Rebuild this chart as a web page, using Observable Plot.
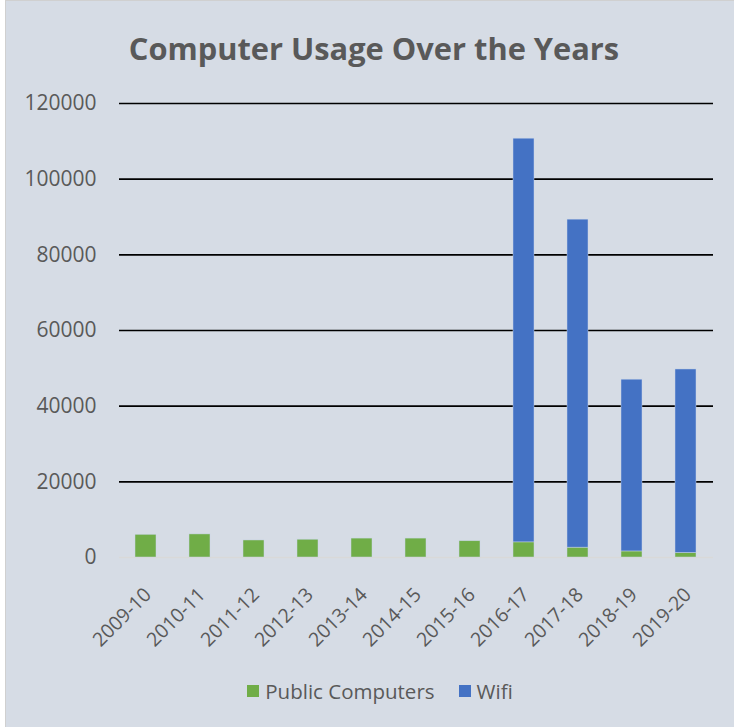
<!DOCTYPE html>
<html>
<head>
<meta charset="utf-8">
<script src="https://cdn.jsdelivr.net/npm/d3@7"></script>
<script src="https://cdn.jsdelivr.net/npm/@observablehq/plot@0.6"></script>
<style>
  html, body { margin: 0; padding: 0; background: #ffffff; }
  #wrap { position: relative; width: 734px; height: 727px; overflow: hidden; background: #ffffff; }
  #frame { position: absolute; left: 5px; top: 0px; width: 740px; height: 740px; background: #d6dce5;
           border-left: 1px solid #d0d0d0; border-top: 1px solid #d0d0d0; }
  #title { position: absolute; left: 0; width: 748px; top: 27px; text-align: center;
           font-family: "Open Sans", sans-serif; font-weight: 700; font-size: 30.8px; color: #595959; }
  #plot { position: absolute; left: 0; top: 0; }
  #legend { position: absolute; left: 0; top: 675px; width: 760px; text-align: center;
            font-family: "Open Sans", sans-serif; font-size: 20.5px; color: #595959; }
  #legend span.item { display: inline-flex; align-items: center; margin: 0 12px; }
  #legend span.sw { display: inline-block; width: 12px; height: 12px; margin-right: 6px; }
</style>
</head>
<body>
<div id="wrap">
  <div id="frame"></div>
  <div id="title">Computer Usage Over the Years</div>
  <div id="plot"></div>
  <div id="legend"></div>
</div>
<script>
const years = ["2009-10","2010-11","2011-12","2012-13","2013-14","2014-15","2015-16","2016-17","2017-18","2018-19","2019-20"];
const publicComputers = [6000, 6100, 4500, 4700, 5000, 5000, 4300, 4000, 2600, 1600, 1200];
const wifi = [0, 0, 0, 0, 0, 0, 0, 106700, 86700, 45400, 48500];
const seriesNames = ["Public Computers", "Wifi"];
const seriesColors = ["#70ad47", "#4472c4"];
const yTicks = [0, 20000, 40000, 60000, 80000, 100000, 120000];

const rows = [];
years.forEach((y, i) => {
  rows.push({year: y, series: seriesNames[0], value: publicComputers[i]});
  rows.push({year: y, series: seriesNames[1], value: wifi[i]});
});

const chart = Plot.plot({
  width: 734,
  height: 727,
  marginLeft: 119,
  marginRight: 21,
  marginTop: 103,
  marginBottom: 170,
  style: {background: "transparent", fontFamily: "'Open Sans', sans-serif", fontSize: "21px", color: "#595959"},
  x: {domain: years, paddingInner: 0.61, paddingOuter: 0.305, label: null},
  y: {domain: [0, 120000], label: null},
  color: {domain: seriesNames, range: seriesColors},
  marks: [
    Plot.ruleY(yTicks.filter(d => d > 0), {stroke: "#000000", strokeWidth: 1.6}),
    Plot.ruleY([0], {stroke: "#d9d9d9", strokeWidth: 1.5}),
    Plot.barY(rows, {x: "year", y: "value", fill: "series", stroke: "#c9d6ea", strokeWidth: 0.6, strokeOpacity: 0.8}),
    Plot.axisY({ticks: yTicks, tickSize: 0, tickPadding: 23, tickFormat: d => String(d), label: null, fill: "#595959", fontSize: 21}),
    Plot.axisX({tickSize: 0, tickRotate: -45, tickPadding: 10, dx: 2, dy: 24, label: null, fill: "#595959", fontSize: 19.5})
  ]
});
document.getElementById("plot").appendChild(chart);

const legend = document.getElementById("legend");
seriesNames.forEach((name, i) => {
  const item = document.createElement("span");
  item.className = "item";
  const sw = document.createElement("span");
  sw.className = "sw";
  sw.style.background = seriesColors[i];
  item.appendChild(sw);
  item.appendChild(document.createTextNode(name));
  legend.appendChild(item);
});
</script>
</body>
</html>
